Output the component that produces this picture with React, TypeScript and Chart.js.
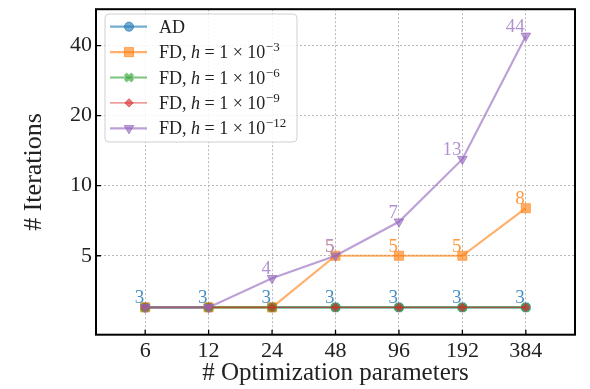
import React, { useEffect, useRef } from 'react';
import { Chart, registerables } from 'chart.js';
import { drawPoint } from 'chart.js/helpers';

Chart.register(...registerables);

// ---- data ----
const params = [6, 12, 24, 48, 96, 192, 384];
const iterAD = [3, 3, 3, 3, 3, 3, 3];
const iterFD3 = [3, 3, 3, 5, 5, 5, 8];
const iterFD6 = [3, 3, 3, 3, 3, 3, 3];
const iterFD9 = [3, 3, 3, 3, 3, 3, 3];
const iterFD12 = [3, 3, 4, 5, 7, 13, 44];
const yTicks = [5, 10, 20, 40];
const hExponents = [null, -3, -6, -9, -12];
const xTitle = '# Optimization parameters';
const yTitle = '# Iterations';

const FONT = '"Liberation Serif", "DejaVu Serif", serif';
const rgba = (c: number[], a: number) => `rgba(${c[0]},${c[1]},${c[2]},${a})`;
const mix = (c: number[], a: number) =>
  `rgb(${Math.round(c[0] * a + 255 * (1 - a))},${Math.round(c[1] * a + 255 * (1 - a))},${Math.round(c[2] * a + 255 * (1 - a))})`;
const BLUE = [31, 119, 180];
const ORANGE = [255, 127, 14];
const GREEN = [44, 160, 44];
const RED = [214, 39, 40];
const PURPLE = [148, 103, 189];
const A = 0.62;

const series = [
  { data: iterAD, col: BLUE, style: 'circle', radius: 4.6, rot: 0, lw: 2.2, pbw: 1, order: 4 },
  { data: iterFD3, col: ORANGE, style: 'rect', radius: 6.4, rot: 0, lw: 2.2, pbw: 1, order: 3 },
  { data: iterFD6, col: GREEN, style: 'crossRot', radius: 5.2, rot: 0, lw: 2.2, pbw: 4, order: 2 },
  { data: iterFD9, col: RED, style: 'rectRot', radius: 4.2, rot: 0, lw: 1.2, pbw: 1, order: 1 },
  { data: iterFD12, col: PURPLE, style: 'triangle', radius: 5.6, rot: 180, lw: 2.2, pbw: 1, order: 0 },
];

const framePlugin = {
  id: 'frameTicks',
  afterDatasetsDraw(chart: any) {
    const { ctx, chartArea: ca, scales } = chart;
    ctx.save();
    // value annotations
    ctx.font = `19px ${FONT}`;
    ctx.textAlign = 'right';
    ctx.textBaseline = 'alphabetic';
    const labelSets = [
      { i: 0, a: 0.82, show: (_v: number) => true },
      { i: 1, a: 0.8, show: (v: number) => v !== 3 },
      { i: 4, a: 0.72, show: (v: number) => v !== 3 },
    ];
    labelSets.forEach(({ i, a, show }) => {
      const meta = chart.getDatasetMeta(i);
      const s = series[i];
      ctx.fillStyle = mix(s.col, a);
      meta.data.forEach((pt: any, j: number) => {
        const v = s.data[j];
        if (show(v)) ctx.fillText(String(v), pt.x - 1, pt.y - 4);
      });
    });
    ctx.restore();

    ctx.save();
    ctx.strokeStyle = '#000';
    ctx.lineWidth = 1.3;
    const tl = 5;
    ctx.beginPath();
    scales.x.ticks.forEach((t: any) => {
      const x = scales.x.getPixelForValue(t.value);
      ctx.moveTo(x, ca.bottom);
      ctx.lineTo(x, ca.bottom - tl);
    });
    scales.y.ticks.forEach((t: any) => {
      const y = scales.y.getPixelForValue(t.value);
      ctx.moveTo(ca.left, y);
      ctx.lineTo(ca.left + tl, y);
    });
    ctx.stroke();
    ctx.lineWidth = 2;
    ctx.strokeRect(ca.left, ca.top, ca.right - ca.left, ca.bottom - ca.top);
    ctx.restore();
  },
  afterDraw(chart: any) {
    const ctx = chart.ctx;
    ctx.save();
    const x0 = 105, y0 = 14, w = 192, h = 128, r = 4;
    ctx.beginPath();
    ctx.moveTo(x0 + r, y0);
    ctx.arcTo(x0 + w, y0, x0 + w, y0 + h, r);
    ctx.arcTo(x0 + w, y0 + h, x0, y0 + h, r);
    ctx.arcTo(x0, y0 + h, x0, y0, r);
    ctx.arcTo(x0, y0, x0 + w, y0, r);
    ctx.closePath();
    ctx.fillStyle = 'rgba(255,255,255,0.85)';
    ctx.fill();
    ctx.strokeStyle = '#d0d0d0';
    ctx.lineWidth = 1;
    ctx.stroke();

    series.forEach((s, i) => {
      const y = 26.7 + i * 25.4;
      ctx.strokeStyle = rgba(s.col, A);
      ctx.lineWidth = s.lw;
      ctx.beginPath();
      ctx.moveTo(110, y);
      ctx.lineTo(147, y);
      ctx.stroke();
      ctx.fillStyle = rgba(s.col, A);
      ctx.lineWidth = s.pbw;
      drawPoint(ctx, { pointStyle: s.style as any, radius: s.radius, rotation: s.rot, borderWidth: s.pbw }, 129, y);

      ctx.fillStyle = '#222';
      ctx.textAlign = 'left';
      ctx.textBaseline = 'alphabetic';
      let tx = 159;
      const by = y + 6;
      const e = hExponents[i];
      if (e === null) {
        ctx.font = `18px ${FONT}`;
        ctx.fillText('AD', tx, by);
      } else {
        ctx.font = `18px ${FONT}`;
        const p1 = 'FD, ';
        ctx.fillText(p1, tx, by);
        tx += ctx.measureText(p1).width;
        ctx.font = `italic 18px ${FONT}`;
        ctx.fillText('h', tx, by);
        tx += ctx.measureText('h').width;
        ctx.font = `18px ${FONT}`;
        const p2 = ' = 1 × 10';
        ctx.fillText(p2, tx, by);
        tx += ctx.measureText(p2).width + 0.5;
        ctx.font = `13px ${FONT}`;
        ctx.fillText('−' + String(-e), tx, by - 7);
      }
    });
    ctx.restore();
  },
};

export default function App() {
  const ref = useRef<HTMLCanvasElement>(null);
  useEffect(() => {
    if (!ref.current) return;
    const chart = new Chart(ref.current, {
      type: 'line',
      data: {
        datasets: series.map((s, i) => ({
          label: String(i),
          data: params.map((p, j) => ({ x: p, y: s.data[j] })),
          borderColor: rgba(s.col, A),
          backgroundColor: rgba(s.col, A),
          borderWidth: s.lw,
          pointStyle: s.style as any,
          pointRadius: s.radius,
          pointRotation: s.rot,
          pointBorderWidth: s.pbw,
          pointBackgroundColor: rgba(s.col, A),
          pointBorderColor: rgba(s.col, A),
          tension: 0,
          order: s.order,
        })),
      },
      options: {
        responsive: false,
        animation: false,
        devicePixelRatio: 1,
        layout: { padding: { top: 4.5, right: 15, left: 0, bottom: 0 } },
        plugins: { legend: { display: false }, tooltip: { enabled: false } },
        scales: {
          x: {
            type: 'logarithmic',
            min: 6 / Math.pow(2, 0.775),
            max: 384 * Math.pow(2, 0.775),
            afterBuildTicks: (sc: any) => { sc.ticks = params.map((v) => ({ value: v })); },
            afterFit: (sc: any) => { sc.height = 54.3; sc.paddingLeft = 0; sc.paddingRight = 0; },
            ticks: {
              autoSkip: false,
              maxRotation: 0,
              padding: 3,
              color: '#222',
              font: { family: FONT, size: 22 },
              callback: (v: any) => String(v),
            },
            grid: { color: '#b8b8b8', lineWidth: 1, drawTicks: false },
            border: { display: false, dash: [2, 2] },
            title: {
              display: true,
              text: xTitle,
              color: '#222',
              font: { family: FONT, size: 25 },
              padding: { top: 0, bottom: 0.5 },
            },
          },
          y: {
            type: 'logarithmic',
            min: 2.29,
            max: 57.3,
            afterBuildTicks: (sc: any) => { sc.ticks = yTicks.map((v) => ({ value: v })); },
            afterFit: (sc: any) => { sc.width = 96; sc.paddingTop = 0; sc.paddingBottom = 0; },
            ticks: {
              padding: 4,
              color: '#222',
              font: { family: FONT, size: 22 },
              callback: (v: any) => String(v),
            },
            grid: { color: '#b8b8b8', lineWidth: 1, drawTicks: false },
            border: { display: false, dash: [2, 2] },
            title: {
              display: true,
              text: yTitle,
              color: '#222',
              font: { family: FONT, size: 26 },
              padding: { top: 19, bottom: 0 },
            },
          },
        },
      },
      plugins: [framePlugin],
    });
    return () => chart.destroy();
  }, []);
  return (
    <div style={{ position: 'fixed', left: 0, top: 0, width: 590, height: 389, background: '#fff' }}>
      <canvas ref={ref} width={590} height={389} />
    </div>
  );
}
